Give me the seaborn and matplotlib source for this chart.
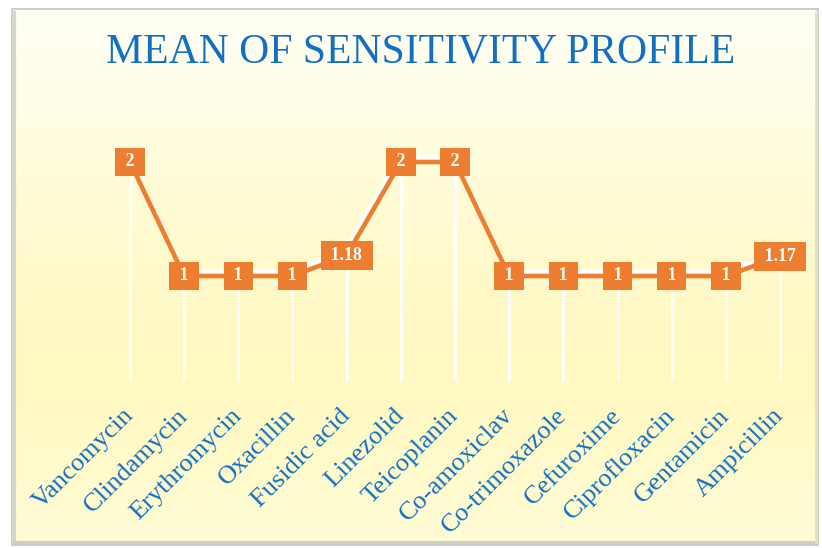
import numpy as np
import pandas as pd
import matplotlib
matplotlib.use("Agg")
import matplotlib.pyplot as plt
import matplotlib.patheffects as pe
from matplotlib.patches import Rectangle
import seaborn as sns

antibiotics = ["Vancomycin", "Clindamycin", "Erythromycin", "Oxacillin", "Fusidic acid",
               "Linezolid", "Teicoplanin", "Co-amoxiclav", "Co-trimoxazole", "Cefuroxime",
               "Ciprofloxacin", "Gentamicin", "Ampicillin"]
mean_values = [2, 1, 1, 1, 1.18, 2, 2, 1, 1, 1, 1, 1, 1.17]
value_labels = ["2", "1", "1", "1", "1.18", "2", "2", "1", "1", "1", "1", "1", "1.17"]
title = "MEAN OF SENSITIVITY PROFILE"

ORANGE = "#ED7D31"
BLUE = "#1170C2"

sns.set_theme(style="white")
plt.rcParams["font.family"] = ["Liberation Serif", "DejaVu Serif"]

W, H = 822, 548
fig = plt.figure(figsize=(W / 100, H / 100), dpi=100)
fig.patch.set_facecolor("white")

# background panel with vertical gradient
bg = fig.add_axes([0, 0, 1, 1], zorder=0)
bg.set_xlim(0, W)
bg.set_ylim(H, 0)
bg.axis("off")
stops_y = np.array([9, 100, 250, 380, 545])
stops_c = np.array([[255, 255, 246], [255, 254, 230], [255, 250, 205], [255, 248, 192], [255, 253, 214]]) / 255
rows = np.linspace(9, 545, 300)
grad = np.stack([np.interp(rows, stops_y, stops_c[:, k]) for k in range(3)], axis=-1)[:, None, :]
bg.imshow(grad, extent=(12, 818, 545, 9), aspect="auto", interpolation="bilinear")
bg.add_patch(Rectangle((12, 9), 806, 536, fill=False, ec="#c4c4c0", lw=1.2))
bg.plot([14, 14], [11, 543], color="#d8d6cc", lw=3, solid_capstyle="butt")
bg.plot([13, 817], [543, 543], color="#cfcdc2", lw=3, solid_capstyle="butt")
bg.plot([816, 816], [11, 543], color="#e6e0c0", lw=2, solid_capstyle="butt")

ax = fig.add_axes([102.9 / W, 1 - 390 / H, 704.2 / W, 285 / H], zorder=1)
ax.patch.set_alpha(0)

df = pd.DataFrame({"Antibiotic": antibiotics, "Mean": mean_values})

ax.vlines(range(len(antibiotics)), 0.08, df["Mean"], color="white", lw=2.2, alpha=0.85, zorder=1)

sns.lineplot(data=df, x="Antibiotic", y="Mean", sort=False, color=ORANGE, lw=3.3, ax=ax, zorder=3,
             path_effects=[pe.SimpleLineShadow(offset=(-1.2, 3.0), shadow_color="white", alpha=1, rho=1),
                           pe.Normal()])

for i, (v, lab) in enumerate(zip(df["Mean"], value_labels)):
    ax.text(i, v, f" {lab} ", ha="center", va="center", color="white", fontweight="bold",
            fontsize=13, zorder=5,
            bbox=dict(boxstyle="square,pad=0.32", fc=ORANGE, ec="none"))

ax.set_xlim(-0.5, len(antibiotics) - 0.5)
ax.set_ylim(0, 2.5)
ax.set_xticks(range(len(antibiotics)))
ax.set_xticklabels(antibiotics, rotation=45, ha="right", va="center", rotation_mode="anchor",
                   fontsize=19, color=BLUE)
ax.tick_params(axis="x", length=0, pad=16)
ax.set_yticks([])
ax.set_xlabel("")
ax.set_ylabel("")
for s in ax.spines.values():
    s.set_visible(False)

fig.text(421 / W, 1 - 52 / H, title, ha="center", va="center", fontsize=30, color=BLUE)

fig.savefig("out.png", dpi=100)
